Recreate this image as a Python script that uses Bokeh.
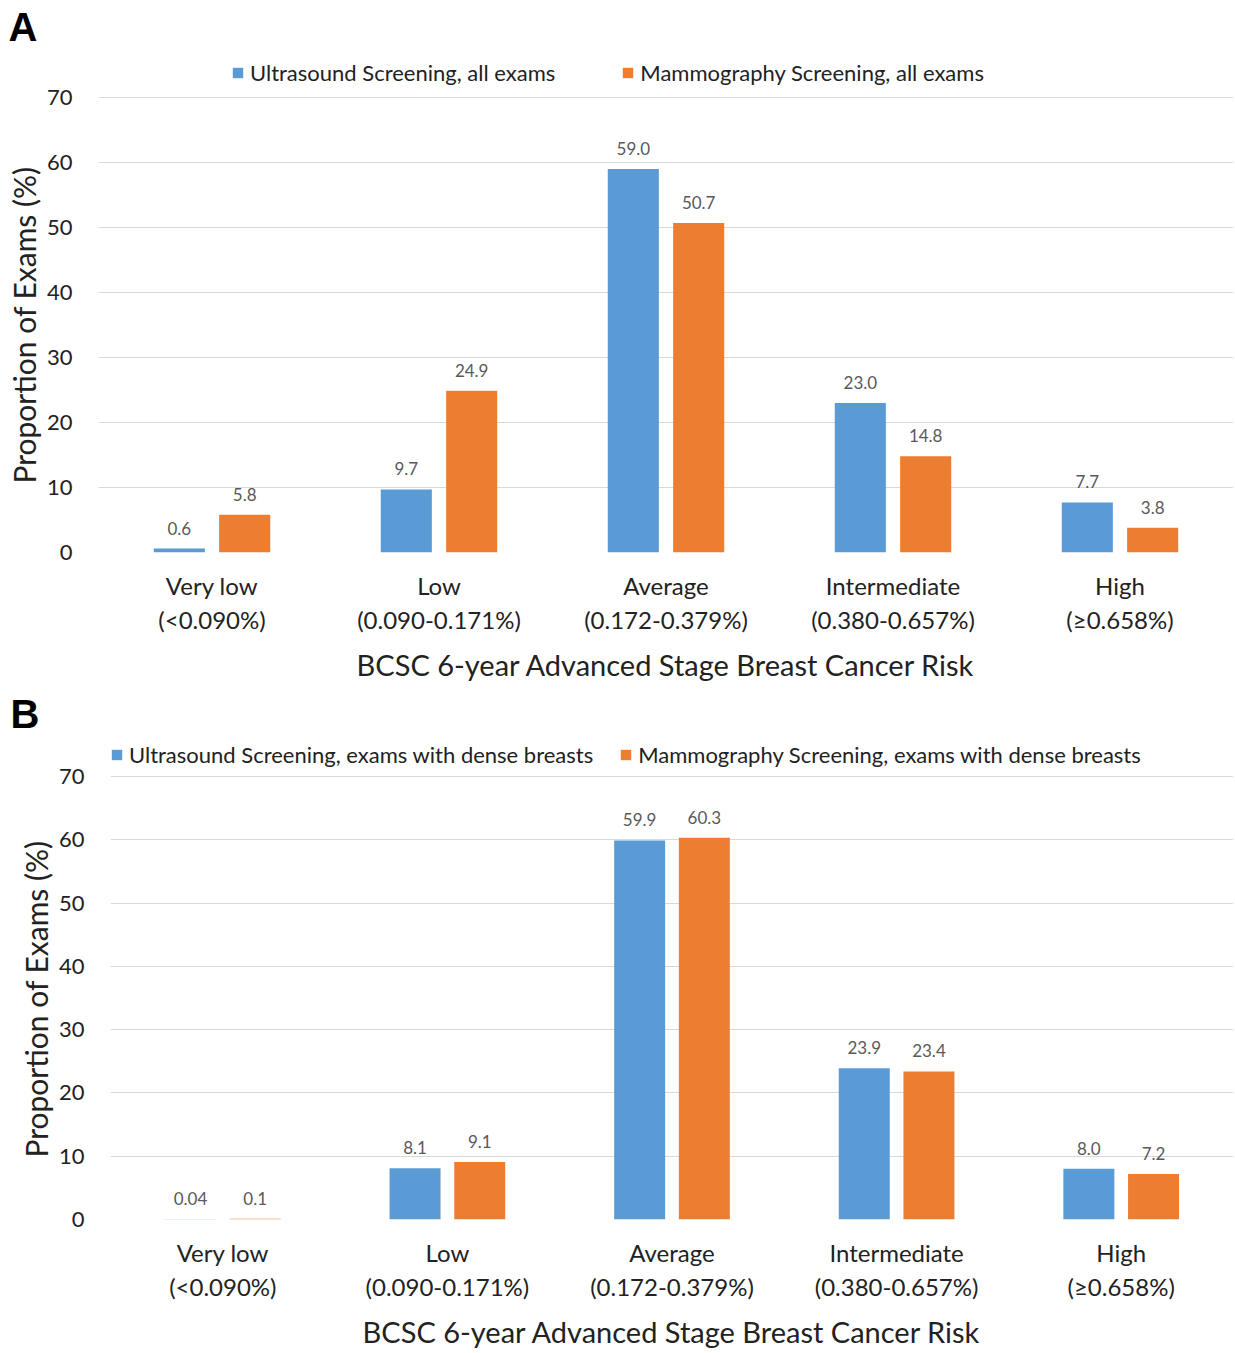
from bokeh.plotting import figure
from bokeh.models import (ColumnDataSource, Legend, LegendItem, Title,
                          FixedTicker, Range1d)
from bokeh.transform import dodge
from bokeh.layouts import column, row
from bokeh.embed import file_html
from bokeh.resources import INLINE
from bokeh.core.properties import value

categories = [
    "Very low\n(<0.090%)",
    "Low\n(0.090-0.171%)",
    "Average\n(0.172-0.379%)",
    "Intermediate\n(0.380-0.657%)",
    "High\n(\u22650.658%)",
]
us_all = [0.6, 9.7, 59.0, 23.0, 7.7]
mammo_all = [5.8, 24.9, 50.7, 14.8, 3.8]
us_all_labels = ["0.6", "9.7", "59.0", "23.0", "7.7"]
mammo_all_labels = ["5.8", "24.9", "50.7", "14.8", "3.8"]

us_dense = [0.04, 8.1, 59.9, 23.9, 8.0]
mammo_dense = [0.1, 9.1, 60.3, 23.4, 7.2]
us_dense_labels = ["0.04", "8.1", "59.9", "23.9", "8.0"]
mammo_dense_labels = ["0.1", "9.1", "60.3", "23.4", "7.2"]

y_ticks = [0, 10, 20, 30, 40, 50, 60, 70]
legend_a = ["Ultrasound Screening, all exams", "Mammography Screening, all exams"]
legend_b = ["Ultrasound Screening, exams with dense breasts",
            "Mammography Screening, exams with dense breasts"]
x_title = "BCSC 6-year Advanced Stage Breast Cancer Risk"
y_title = "Proportion of Exams (%)"

BLUE = "#5B9BD5"
ORANGE = "#ED7D31"
FONT = "Lato"
DARK = "#222222"


def make_panel(us, mm, us_lab, mm_lab, leg, letter, height, left, top, bottom,
               y_end, bar_w, leg_loc, leg_spacing, letter_offset, ytitle_offset):
    src = ColumnDataSource(dict(cat=categories, us=us, mm=mm,
                                us_lab=us_lab, mm_lab=mm_lab))
    p = figure(x_range=categories, y_range=Range1d(0, y_end), width=1235,
               height=height, output_backend="svg", toolbar_location=None,
               min_border_left=left, min_border_right=2,
               min_border_top=top, min_border_bottom=bottom, title=letter)
    p.outline_line_color = None
    p.background_fill_color = "white"
    p.border_fill_color = "white"

    p.title.align = "left"
    p.title.vertical_align = "top"
    p.title.offset = letter_offset
    p.title.standoff = 0
    p.title.text_font = "Liberation Sans"
    p.title.text_font_size = "40px"
    p.title.text_font_style = "bold"
    p.title.text_color = "black"

    r1 = p.vbar(x=dodge("cat", -0.144, range=p.x_range), top="us", width=bar_w,
                source=src, fill_color=BLUE, line_color=None)
    r2 = p.vbar(x=dodge("cat", 0.144, range=p.x_range), top="mm", width=bar_w,
                source=src, fill_color=ORANGE, line_color=None)
    for off, col in ((-0.144, "us"), (0.144, "mm")):
        p.text(x=dodge("cat", off, range=p.x_range), y=col, text=col + "_lab",
               source=src, text_align="center", text_baseline="bottom",
               y_offset=-14, text_font=value(FONT), text_font_size="17px",
               text_color="#595959")

    p.yaxis.ticker = FixedTicker(ticks=y_ticks)
    p.ygrid.grid_line_color = "#d9d9d9"
    p.ygrid.grid_line_width = 1
    p.xgrid.grid_line_color = None

    for ax in (p.xaxis, p.yaxis):
        ax.axis_line_color = None
        ax.major_tick_line_color = None
        ax.minor_tick_line_color = None
        ax.major_tick_out = 0
        ax.major_tick_in = 0
        ax.major_label_text_font = FONT
        ax.axis_label_text_font = FONT
        ax.axis_label_text_font_style = "normal"
        ax.major_label_text_color = DARK
        ax.axis_label_text_color = DARK

    p.yaxis.major_label_text_font_size = "22px"
    p.yaxis.major_label_standoff = 26

    ytitle = Title(text=y_title, align="left", offset=ytitle_offset,
                   standoff=4, text_font=FONT, text_font_size="30px",
                   text_font_style="normal", text_color=DARK)
    p.add_layout(ytitle, "left")

    p.xaxis.major_label_text_font_size = "24px"
    p.xaxis.major_label_standoff = 18
    p.xaxis.major_label_orientation = "horizontal"
    p.xaxis.axis_label = x_title
    p.xaxis.axis_label_text_font_size = "29px"
    p.xaxis.axis_label_standoff = 10

    legend = Legend(items=[LegendItem(label=leg[0], renderers=[r1]),
                           LegendItem(label=leg[1], renderers=[r2])],
                    orientation="horizontal", location=leg_loc,
                    glyph_width=13, glyph_height=13, label_standoff=6,
                    spacing=leg_spacing, padding=0, margin=0,
                    border_line_color=None, background_fill_alpha=0,
                    label_text_font=FONT, label_text_font_size="22px",
                    label_text_color=DARK, label_height=20)
    p.add_layout(legend, "center")
    return p


# Panel A: frame x 98..1233, y 50..552 (70 at 97, 0 at 552)
pa = make_panel(us_all, mammo_all, us_all_labels, mammo_all_labels,
                legend_a, "A", 687, 98, 50, 135, 77.23, 0.225,
                (133, 466), 66, -90, 69)

# Panel B: frame x 110..1233, y 737..1219 (70 at 776, 0 at 1219)
pb = make_panel(us_dense, mammo_dense, us_dense_labels, mammo_dense_labels,
                legend_b, "B", 666, 110, 50, 134, 76.16, 0.227,
                (0, 451), 26, -100, 62)

layout = column(row(pa), row(pb), spacing=0)

open("out.html", "w").write(file_html(layout, INLINE))
